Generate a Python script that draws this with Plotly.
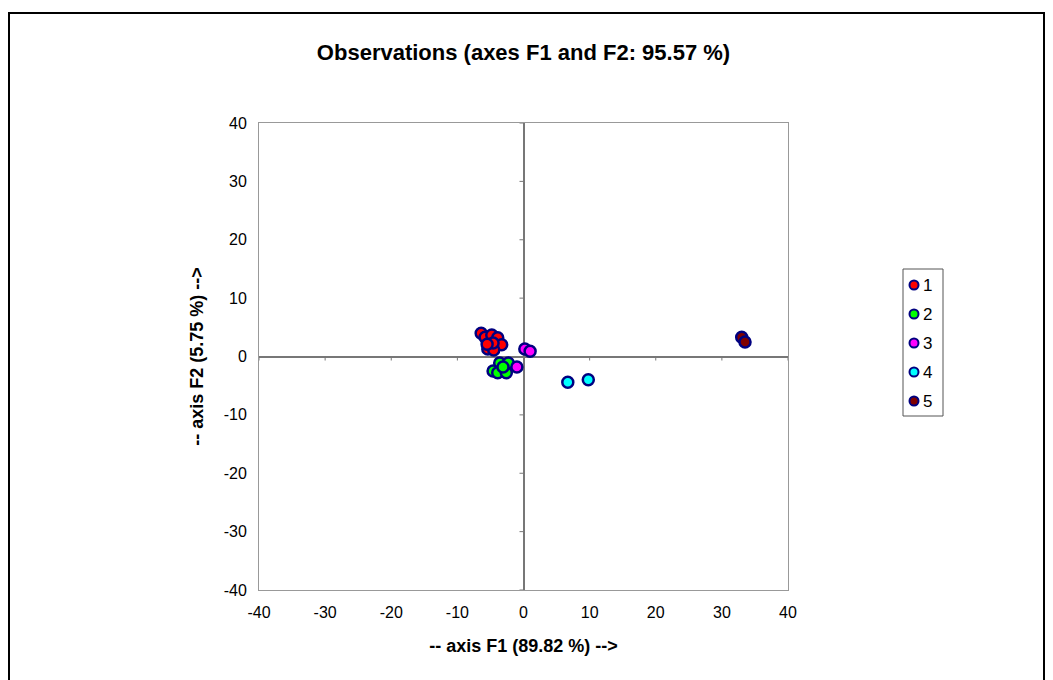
import plotly.graph_objects as go

# ---- data ----
groups = ["1", "2", "3", "4", "5"]
g1_x = [-6.4, -5.8, -4.8, -3.9, -3.3, -5.4, -4.5, -4.6, -5.5]
g1_y = [4.0, 3.3, 3.7, 3.2, 2.0, 1.3, 1.1, 2.3, 2.1]
g2_x = [-3.6, -2.3, -4.6, -3.9, -2.6, -3.1]
g2_y = [-1.1, -1.1, -2.5, -2.8, -2.8, -1.8]
g3_x = [0.2, 1.0, -1.0]
g3_y = [1.3, 0.9, -1.8]
g4_x = [6.7, 9.8]
g4_y = [-4.4, -4.0]
g5_x = [33.0, 33.5]
g5_y = [3.3, 2.5]
xs = [g1_x, g2_x, g3_x, g4_x, g5_x]
ys = [g1_y, g2_y, g3_y, g4_y, g5_y]
fills = ["#FF0000", "#00FF00", "#FF00FF", "#00FFFF", "#800000"]
tick_vals = [-40, -30, -20, -10, 0, 10, 20, 30, 40]
tick_text = [str(v) for v in tick_vals]

title_text = "Observations (axes F1 and F2: 95.57 %)"
x_title = "-- axis F1 (89.82 %) -->"
y_title = "-- axis F2 (5.75 %) -->"

fig = go.Figure()
for name, x, y, c in zip(groups, xs, ys, fills):
    fig.add_trace(go.Scatter(
        x=x, y=y, mode="markers", name=name, showlegend=False,
        marker=dict(size=11, color=c, line=dict(color="#000080", width=2.5)),
    ))

font_family = "Liberation Sans, Arial, sans-serif"

# plot area in svg pixels
L, R, T, B = 251, 780, 115, 582
PW, PH = R - L, B - T


def px(xp):
    return (xp - L) / PW


def py(yp):
    return (B - yp) / PH


fig.update_layout(
    width=1053, height=680,
    margin=dict(l=L, r=1053 - R, t=T, b=680 - B),
    paper_bgcolor="white", plot_bgcolor="white",
    font=dict(family=font_family, size=16, color="black"),
    title=dict(text="<b>" + title_text + "</b>", x=0.5, xref="paper",
               y=1 - 44 / 680, yanchor="middle",
               font=dict(size=22, family=font_family)),
    showlegend=False,
)

axis_common = dict(
    range=[-40, 40], tickvals=tick_vals, ticktext=tick_text, showgrid=False,
    zeroline=True, zerolinecolor="#777777", zerolinewidth=2,
    showline=True, mirror=True, linecolor="#999999", linewidth=1,
    ticks="outside", ticklen=8, tickcolor="rgba(0,0,0,0)",
    tickfont=dict(size=16), fixedrange=True,
)
fig.update_xaxes(**axis_common,
                 title=dict(text="<b>" + x_title + "</b>", font=dict(size=18), standoff=19))
fig.update_yaxes(**axis_common,
                 title=dict(text="<b>" + y_title + "</b>", font=dict(size=18), standoff=15))

# tick marks along the zero axes
for t in tick_vals:
    fig.add_shape(type="line", xref="x", yref="y", x0=t, x1=t,
                  ysizemode="pixel", yanchor=0, y0=0, y1=-4,
                  line=dict(color="#777777", width=1))
    fig.add_shape(type="line", xref="x", yref="y", y0=t, y1=t,
                  xsizemode="pixel", xanchor=0, x0=0, x1=-4,
                  line=dict(color="#777777", width=1))

# legend (drawn by hand to match the compact Excel-style box)
LEG_L, LEG_R, LEG_T, LEG_B = 895, 935, 261, 408
ITEM_Y0, ITEM_DY = 277, 29
fig.add_shape(type="rect", xref="paper", yref="paper",
              x0=px(LEG_L), x1=px(LEG_R), y0=py(LEG_B), y1=py(LEG_T),
              line=dict(color="#555555", width=1), fillcolor="white")
for i, (name, c) in enumerate(zip(groups, fills)):
    cy = py(ITEM_Y0 + ITEM_DY * i)
    fig.add_shape(type="circle", xref="paper", yref="paper",
                  xsizemode="pixel", ysizemode="pixel",
                  xanchor=px(906), yanchor=cy, x0=-4.5, x1=4.5, y0=-4.5, y1=4.5,
                  line=dict(color="#000080", width=2), fillcolor=c)
    fig.add_annotation(xref="paper", yref="paper", x=px(913), y=cy,
                       xanchor="left", yanchor="middle", showarrow=False,
                       text=name, font=dict(size=17, color="black"))

# outer chart border
fig.add_shape(type="rect", xref="paper", yref="paper",
              x0=px(1), x1=px(1036), y0=py(700), y1=py(5),
              line=dict(color="black", width=2), fillcolor="rgba(0,0,0,0)", layer="below")

fig.write_html("out.html")
